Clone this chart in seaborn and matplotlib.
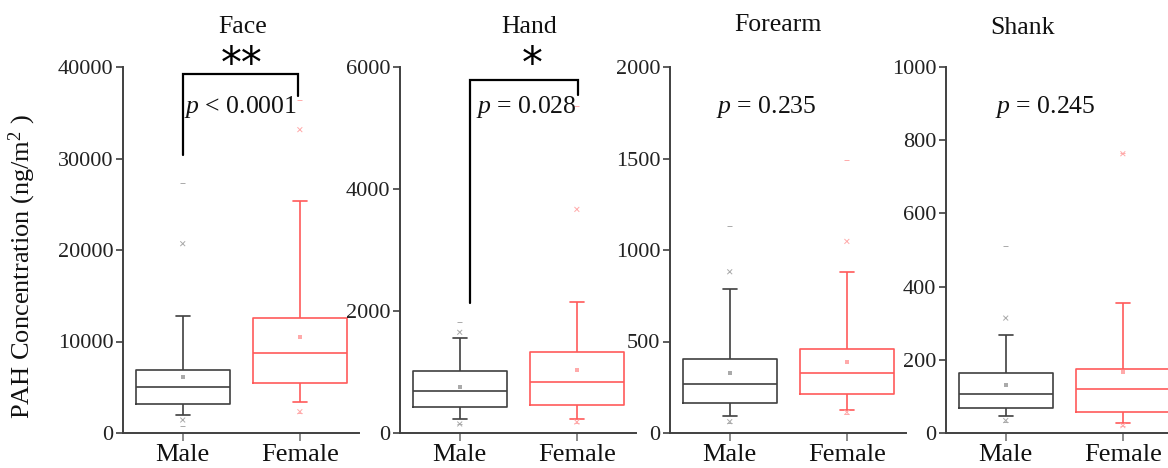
import numpy as np
import pandas as pd
import matplotlib
matplotlib.use("Agg")
import matplotlib.pyplot as plt
import matplotlib.transforms as mtransforms
import seaborn as sns

# ---------------- data ----------------
regions = ["Face", "Hand", "Forearm", "Shank"]
sexes = ["Male", "Female"]

# box statistics: whisker low, Q1, median, Q3, whisker high
male_wlo = [1935, 225, 93, 47]
male_q1 = [3210, 426, 162, 68]
male_med = [5060, 684, 266, 107]
male_q3 = [6850, 1011, 406, 164]
male_whi = [12790, 1552, 785, 267]
male_mean = [6120, 749, 330, 132]
male_p1 = [1420, 148, 62, 34]
male_p99 = [20690, 1651, 881, 314]
male_min = [800, 140, 56, 30]
male_max = [27360, 1815, 1133, 511]

female_wlo = [3390, 234, 127, 28]
female_q1 = [5465, 464, 213, 57]
female_med = [8777, 831, 328, 121]
female_q3 = [12568, 1333, 461, 175]
female_whi = [25319, 2152, 881, 355]
female_mean = [10460, 1033, 388, 166]
female_p1 = [2330, 180, 113, 20]
female_p99 = [33151, 3666, 1047, 763]
female_min = [2200, 170, 105, 18]
female_max = [36357, 5355, 1494, 766]

y_max = [40000, 6000, 2000, 1000]
y_step = [10000, 2000, 500, 200]
p_texts = [r"$p$ < 0.0001", r"$p$ = 0.028", r"$p$ = 0.235", r"$p$ = 0.245"]
stars = ["**", "*", "", ""]
# bracket: (x_left, x_right, y_left_end, y_top, y_right_end)
brackets = [(0.0, 0.98, 30380, 39240, 36830), (0.085, 1.01, 2131, 5787, 5541), None, None]

# ---------------- style ----------------
sns.set_theme(style="ticks")
plt.rcParams["font.family"] = ["Liberation Serif", "DejaVu Serif"]
plt.rcParams["mathtext.fontset"] = "custom"
plt.rcParams["mathtext.rm"] = "Liberation Serif"
plt.rcParams["mathtext.it"] = "Liberation Serif:italic"

male_c = "#404040"
female_c = "#ff5a5a"
palette = {"Male": male_c, "Female": female_c}
light = {"Male": "#aaaaaa", "Female": "#ffaaaa"}

W, H = 1168, 468
fig = plt.figure(figsize=(W / 100, H / 100), dpi=100)

ax_left_px = [123, 400, 670, 946]
ax_w_px = 236
ax_top_px, ax_bot_px = 67, 433
title_x_px = [243, 529, 778, 1022]
title_y_px = [27, 27, 25, 28]
p_x_cat = [0.49, 0.57, 0.31, 0.34]
star_x_cat = [0.5, 0.615, 0, 0]

for i, reg in enumerate(regions):
    ax = fig.add_axes([ax_left_px[i] / W, 1 - ax_bot_px / H,
                       ax_w_px / W, (ax_bot_px - ax_top_px) / H])
    # five values per group whose quartiles / extremes give the box stats
    box_df = pd.DataFrame({
        "sex": ["Male"] * 5 + ["Female"] * 5,
        "val": [male_wlo[i], male_q1[i], male_med[i], male_q3[i], male_whi[i],
                female_wlo[i], female_q1[i], female_med[i], female_q3[i], female_whi[i]],
    })
    sns.boxplot(data=box_df, x="sex", y="val", hue="sex", order=sexes,
                hue_order=sexes, palette=palette, fill=False, width=0.8,
                whis=(0, 100), linewidth=1.2, saturation=1, legend=False,
                capwidths=0.12, ax=ax)

    mean_df = pd.DataFrame({"sex": sexes, "val": [male_mean[i], female_mean[i]]})
    pct_df = pd.DataFrame({"sex": sexes * 2,
                           "val": [male_p1[i], female_p1[i], male_p99[i], female_p99[i]]})
    ext_df = pd.DataFrame({"sex": sexes * 2,
                           "val": [male_min[i], female_min[i], male_max[i], female_max[i]]})
    sns.stripplot(data=mean_df, x="sex", y="val", hue="sex", order=sexes,
                  hue_order=sexes, palette=light, jitter=False, marker="s",
                  size=2.5, legend=False, ax=ax)
    sns.stripplot(data=pct_df, x="sex", y="val", hue="sex", order=sexes,
                  hue_order=sexes, palette=light, jitter=False, marker="x",
                  size=3.5, linewidth=0.7, legend=False, ax=ax)
    sns.stripplot(data=ext_df, x="sex", y="val", hue="sex", order=sexes,
                  hue_order=sexes, palette=light, jitter=False, marker="_",
                  size=3.5, linewidth=0.7, legend=False, ax=ax)

    ax.set_xlim(-0.51, 1.505)
    ax.set_ylim(0, y_max[i])
    ax.set_yticks(np.arange(0, y_max[i] + 1, y_step[i]))
    ax.set_xlabel("")
    ax.set_ylabel("")
    sns.despine(ax=ax)
    for s in ["left", "bottom"]:
        ax.spines[s].set_color("#404040")
        ax.spines[s].set_linewidth(1.4)
    ax.tick_params(axis="y", labelsize=16, length=5, width=1.2,
                   color="#404040", labelcolor="#222222", pad=2)
    ax.tick_params(axis="x", labelsize=19, length=6, width=1.2,
                   color="#777777", labelcolor="#111111", pad=2)
    ax.patch.set_alpha(0)

    # title
    fig.text(title_x_px[i] / W, 1 - title_y_px[i] / H, reg, ha="center",
             va="center", fontsize=18.5, color="#111111")

    trans = mtransforms.blended_transform_factory(ax.transData, ax.transAxes)
    ax.text(p_x_cat[i], 0.891, p_texts[i], transform=trans, ha="center",
            va="center", fontsize=18.5, color="#111111")

    if brackets[i] is not None:
        xl, xr, yl, yt, yr = brackets[i]
        ax.plot([xl, xl, xr, xr], [yl, yt, yt, yr], color="black", lw=1.6,
                clip_on=False, solid_joinstyle="miter")
        ax.text(star_x_cat[i], 1.005, stars[i], transform=trans, ha="center",
                va="center", fontsize=30, color="black",
                family="DejaVu Sans")

fig.text(22 / W, 1 - 267 / H, r"PAH Concentration (ng/m$^{2}$ )", rotation=90,
         ha="center", va="center", fontsize=19, color="#111111")

fig.savefig("out.png", dpi=100)
